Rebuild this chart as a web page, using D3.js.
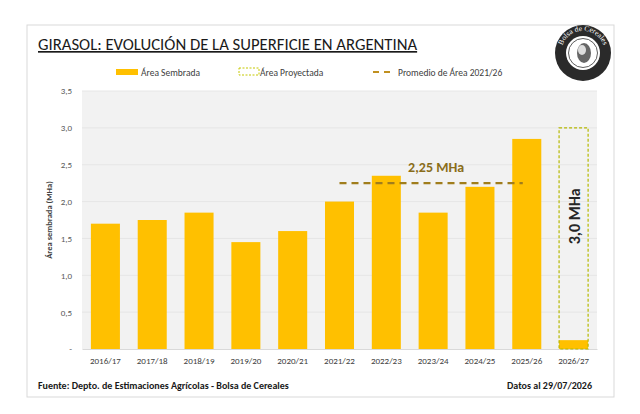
<!DOCTYPE html>
<html><head><meta charset="utf-8">
<script src="https://cdn.jsdelivr.net/npm/d3@7"></script>
<style>body{margin:0;background:#fff}text{font-family:Calibri,Carlito,"Open Sans",sans-serif}</style>
</head><body><svg id="c" width="640" height="414"></svg>
<script>
var campaigns = ["2016/17","2017/18","2018/19","2019/20","2020/21","2021/22","2022/23","2023/24","2024/25","2025/26","2026/27"];
var sown = [1.70,1.75,1.85,1.45,1.60,2.00,2.35,1.85,2.20,2.85,0.12];
var projected = [null,null,null,null,null,null,null,null,null,null,3.0];
var average = 2.25, avgFrom = "2021/22", avgTo = "2025/26";
var yTicks = [0,0.5,1,1.5,2,2.5,3,3.5];

var svg = d3.select("#c");
var fmt = d => d === 0 ? "-" : d.toFixed(1).replace(".", ",");
var GOLD = "#ffc000";

svg.append("rect").attr("x",27).attr("y",25).attr("width",587).attr("height",372)
  .attr("fill","#fff").attr("stroke","#d9d9d9");

var L = 82, R = 597, T = 91, B = 349;
var x = d3.scaleBand().domain(campaigns).range([L, R]).paddingInner(0.38).paddingOuter(0.19);
var y = d3.scaleLinear().domain([0, 3.5]).range([B, T]);

svg.append("rect").attr("x",L).attr("y",T).attr("width",R-L).attr("height",B-T).attr("fill","#f2f2f2");
svg.selectAll(".grid").data(yTicks.slice(1)).enter().append("line")
  .attr("x1",L).attr("x2",R).attr("y1",d=>y(d)).attr("y2",d=>y(d)).attr("stroke","#e6e6e6");

var ya = svg.append("g").attr("transform",`translate(${L},0)`)
  .call(d3.axisLeft(y).tickValues(yTicks).tickFormat(fmt).tickSize(0).tickPadding(10));
ya.select(".domain").remove();
ya.selectAll("text").attr("font-size",9).attr("fill","#595959").style("font-family","Calibri,Carlito,sans-serif");

var xa = svg.append("g").attr("transform",`translate(0,${B})`)
  .call(d3.axisBottom(x).tickSize(0).tickPadding(9));
xa.select(".domain").attr("stroke","#d9d9d9");
xa.selectAll("text").attr("font-size",9).attr("fill","#404040").style("font-family","Calibri,Carlito,sans-serif");

svg.selectAll(".bar").data(campaigns).enter().append("rect")
  .attr("x",d=>x(d)).attr("width",x.bandwidth())
  .attr("y",(d,i)=>y(sown[i])).attr("height",(d,i)=>B-y(sown[i])).attr("fill",GOLD);

campaigns.forEach((c,i)=>{
  if (projected[i] == null) return;
  svg.append("rect").attr("x",x(c)).attr("width",x.bandwidth())
    .attr("y",y(projected[i])).attr("height",B-y(projected[i]))
    .attr("fill","none").attr("stroke","#b5b800").attr("stroke-width",1.2).attr("stroke-dasharray","3,2");
  svg.append("text").attr("transform",`translate(${x(c)+x.bandwidth()/2+6},${y(1.8)}) rotate(-90)`)
    .attr("text-anchor","middle").attr("font-size",16).attr("font-weight","bold").attr("fill","#262626")
    .text(fmt(projected[i]) + " MHa");
});

var bw = x.bandwidth();
svg.append("line").attr("x1",x(avgFrom)+bw/2).attr("x2",x(avgTo)+bw/2-4)
  .attr("y1",y(average)).attr("y2",y(average))
  .attr("stroke","#a07d1c").attr("stroke-width",2.2).attr("stroke-dasharray","7,5");
svg.append("text").attr("x",(x(avgFrom)+x(avgTo))/2+bw/2+3).attr("y",y(average)-11)
  .attr("text-anchor","middle").attr("font-size",14).attr("font-weight","bold").attr("fill","#8a6d1a")
  .text(average.toFixed(2).replace(".",",") + " MHa");

svg.append("text").attr("transform",`translate(52,${(T+B)/2}) rotate(-90)`).attr("text-anchor","middle")
  .attr("font-size",8.5).attr("font-weight","bold").attr("fill","#404040").text("Área sembrada (MHa)");

svg.append("text").attr("x",38).attr("y",50).attr("font-size",16.7).attr("fill","#1a1a1a")
  .attr("text-decoration","underline").text("GIRASOL: EVOLUCIÓN DE LA SUPERFICIE EN ARGENTINA");

// legend
var lg = svg.append("g").attr("font-size",9.5).attr("fill","#404040");
lg.append("rect").attr("x",116).attr("y",69).attr("width",22).attr("height",6).attr("fill",GOLD);
lg.append("text").attr("x",141).attr("y",75.5).text("Área Sembrada");
lg.append("rect").attr("x",239).attr("y",68).attr("width",20).attr("height",7).attr("fill","none")
  .attr("stroke","#c5c800").attr("stroke-dasharray","2,1.5");
lg.append("text").attr("x",260).attr("y",75.5).text("Área Proyectada");
lg.append("line").attr("x1",373).attr("x2",393).attr("y1",72).attr("y2",72)
  .attr("stroke","#c09020").attr("stroke-width",2).attr("stroke-dasharray","6,5");
lg.append("text").attr("x",398).attr("y",75.5).text("Promedio de Área 2021/26");

// footer
svg.append("text").attr("x",38).attr("y",389).attr("font-size",10).attr("font-weight","bold").attr("fill","#1a1a1a")
  .text("Fuente: Depto. de Estimaciones Agrícolas - Bolsa de Cereales");
svg.append("text").attr("x",592).attr("y",389).attr("text-anchor","end").attr("font-size",10).attr("font-weight","bold")
  .attr("fill","#1a1a1a").text("Datos al 29/07/2026");

// logo
var lgo = svg.append("g").attr("transform","translate(583,53)");
lgo.append("circle").attr("r",28).attr("fill","#2a2a2a");
lgo.append("circle").attr("r",17).attr("fill","#fff");
lgo.append("circle").attr("r",14.5).attr("fill","none").attr("stroke","#333").attr("stroke-width",0.8);
lgo.append("path").attr("id","arc").attr("d","M -20 9 A 22 22 0 1 1 20 9").attr("fill","none");
lgo.append("text").attr("font-size",7.5).attr("fill","#fff").style("font-family","serif")
  .append("textPath").attr("href","#arc").attr("startOffset","50%").attr("text-anchor","middle").text("Bolsa de Cereales");
lgo.append("ellipse").attr("cx",1).attr("cy",0).attr("rx",7).attr("ry",10).attr("fill","#666");
lgo.append("ellipse").attr("cx",-1).attr("cy",-3).attr("rx",4).attr("ry",5).attr("fill","#ddd");
</script></body></html>
